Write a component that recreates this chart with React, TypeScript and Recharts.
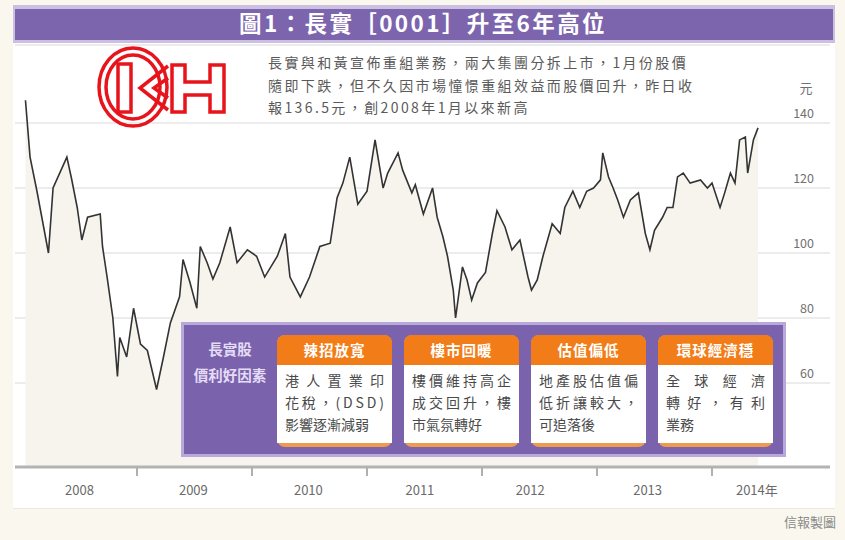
import React from 'react';
import { ComposedChart, Area, XAxis, YAxis, CartesianGrid } from 'recharts';

// ---- data (fractional year, price HK$) ----
const dates = [
  2008.03, 2008.07, 2008.13, 2008.23, 2008.27, 2008.39, 2008.43, 2008.48, 2008.52, 2008.57,
  2008.68, 2008.70, 2008.74, 2008.79, 2008.83, 2008.85, 2008.91, 2008.97, 2009.03, 2009.09,
  2009.17, 2009.23, 2009.29, 2009.37, 2009.40, 2009.46, 2009.52, 2009.55, 2009.61, 2009.66,
  2009.72, 2009.81, 2009.87, 2009.96, 2010.04, 2010.11, 2010.22, 2010.29, 2010.33, 2010.42,
  2010.50, 2010.59, 2010.68, 2010.74, 2010.79, 2010.85, 2010.92, 2011.00, 2011.07, 2011.14,
  2011.18, 2011.27, 2011.31, 2011.39, 2011.42, 2011.49, 2011.57, 2011.61, 2011.66, 2011.70,
  2011.75, 2011.77, 2011.83, 2011.87, 2011.91, 2011.96, 2012.03, 2012.09, 2012.13, 2012.20,
  2012.26, 2012.33, 2012.40, 2012.43, 2012.48, 2012.53, 2012.61, 2012.68, 2012.72, 2012.79,
  2012.85, 2012.91, 2012.97, 2013.03, 2013.05, 2013.10, 2013.14, 2013.18, 2013.23, 2013.29,
  2013.36, 2013.42, 2013.46, 2013.50, 2013.57, 2013.61, 2013.66, 2013.70, 2013.75, 2013.81,
  2013.90, 2013.96, 2014.00, 2014.07, 2014.11, 2014.16, 2014.20, 2014.24, 2014.29, 2014.31,
  2014.36, 2014.40,
];
const prices = [
  147, 129.5, 119, 100, 120, 129.5, 123, 114, 104, 111,
  112, 102, 92.6, 80, 62, 74, 68, 83, 72, 70,
  58, 68, 78.5, 86.5, 98, 91, 83, 102, 97, 92,
  97, 108, 97, 101, 99, 92.6, 99, 106, 92.6, 86.5,
  92.6, 102, 103, 117, 121.5, 129.5, 115, 119, 134.8, 120,
  124.6, 130.8, 125.5, 118.5, 121, 112, 120, 111, 105, 99,
  88.6, 80, 95.7, 91.7, 85.5, 90.8, 94, 106, 113, 108,
  101, 104, 92.6, 88.6, 91.7, 99, 109, 106, 114, 119,
  114, 119, 120, 122.5, 130.8, 123.4, 120, 116.3, 111, 116.3,
  118.5, 106, 101, 107, 111, 114, 114, 123.4, 124.6, 121.5,
  122.5, 120, 121.5, 114, 118.5, 124.6, 121.5, 134.8, 135.7, 124.6,
  134.8, 138.5,
];
const yTicks = [60, 80, 100, 120, 140];
const yearBoundaries = [2009, 2010, 2011, 2012, 2013, 2014];
const yearLabelPos = [2008.5, 2009.49, 2010.49, 2011.46, 2012.42, 2013.44, 2014.39];
const yearLabels = ['2008', '2009', '2010', '2011', '2012', '2013', '2014年'];

const title = '圖1：長實［0001］升至6年高位';
const noteLines = [
  '長實與和黃宣佈重組業務，兩大集團分拆上市，1月份股價',
  '隨即下跌，但不久因市場憧憬重組效益而股價回升，昨日收',
  '報136.5元，創2008年1月以來新高',
];
const boxLabel = ['長實股', '價利好因素'];
const cardTitles = ['辣招放寬', '樓市回暖', '估值偏低', '環球經濟穩'];
const cardLines = [
  ['港人置業印', '花稅，(DSD)', '影響逐漸減弱'],
  ['樓價維持高企', '成交回升，樓', '市氣氛轉好'],
  ['地產股估值偏', '低折讓較大，', '可追落後'],
  ['全球經濟', '轉好，有利', '業務'],
];
const unitLabel = '元';
const sourceLabel = '信報製圖';

const data = dates.map((t, i) => ({ t, price: prices[i] }));
const xTicks = [...yearBoundaries, ...yearLabelPos].sort((a, b) => a - b);

const FONT = '"Noto Sans CJK TC", "Noto Sans", sans-serif';

const XTick = (props: any) => {
  const { x, y, payload } = props;
  const v = payload.value;
  const bi = yearBoundaries.indexOf(v);
  if (bi >= 0) {
    return <line x1={x} x2={x} y1={y} y2={y + 9} stroke="#b0b0b0" strokeWidth={2} />;
  }
  const li = yearLabelPos.indexOf(v);
  return (
    <text x={x} y={y + 28} textAnchor="middle" fontSize={13} fill="#6a6a6a" fontFamily={FONT}>
      {yearLabels[li]}
    </text>
  );
};

const YTick = (props: any) => {
  const { x, y, payload } = props;
  return (
    <text x={x - 16} y={y - 5} textAnchor="end" fontSize={12.5} fill="#707070" fontFamily={FONT}>
      {payload.value}
    </text>
  );
};

const CARD_X = [277, 404, 531, 658];
const CARD_W = 115;

export default function App() {
  return (
    <div style={{ position: 'absolute', left: 0, top: 0, width: 845, height: 540, background: '#faf8ee', overflow: 'hidden', fontFamily: FONT }}>
      {/* white panel */}
      <div style={{ position: 'absolute', left: 13, top: 43, width: 822, height: 465, background: '#ffffff', borderBottom: '1px solid #ebe8dc' }} />
      <div style={{ position: 'absolute', left: 0, top: 0 }}>
        <ComposedChart width={845} height={540} data={data} margin={{ top: 45, right: 0, bottom: 43, left: 15 }}>
          <CartesianGrid vertical={false} stroke="#e6e6e6" strokeWidth={1.5} />
          <XAxis
            dataKey="t"
            type="number"
            domain={[2007.939, 2015.026]}
            allowDataOverflow
            ticks={xTicks}
            interval={0}
            tickSize={0}
            tickMargin={0}
            tickLine={false}
            tick={<XTick />}
            axisLine={{ stroke: '#b3b3b3', strokeWidth: 3 }}
            height={30}
          />
          <YAxis
            orientation="right"
            width={15}
            domain={[34.15, 164]}
            allowDataOverflow
            ticks={yTicks}
            interval={0}
            tickSize={0}
            tickMargin={0}
            tickLine={false}
            axisLine={false}
            tick={<YTick />}
          />
          <Area
            dataKey="price"
            type="linear"
            stroke="#333333"
            strokeWidth={1.6}
            fill="#f6f4ec"
            fillOpacity={1}
            isAnimationActive={false}
            dot={false}
            activeDot={false}
          />
        </ComposedChart>
      </div>
      <svg width={845} height={540} style={{ position: 'absolute', left: 0, top: 0, pointerEvents: 'none' }}>
        {/* title bar */}
        <rect x={13} y={5} width={822} height={38} fill="#cbc0e2" />
        <rect x={15} y={9} width={818} height={31} fill="#7d65ae" />
        <text x={423} y={32} textAnchor="middle" fontSize={22.5} fontWeight="bold" fill="#ffffff" fontFamily={FONT} letterSpacing={2.4}>
          {title}
        </text>
        {/* logo */}
        <g fill="none" stroke="#e8141b" strokeWidth={3.5}>
          <ellipse cx={133} cy={87} rx={34} ry={39} />
          <ellipse cx={133} cy={87} rx={27} ry={32} />
          <rect x={118} y={64} width={13} height={48} fill="#fff" />
          <polyline points="168,66 140,88 168,110" />
          <polyline points="168,78 154,88 168,98" />
          <path d="M172,65 H185 V82 H210 V65 H224 V112 H210 V95 H185 V112 H172 Z" fill="#fff" />
        </g>
        {/* note */}
        {noteLines.map((l, i) => (
          <text key={i} x={268} y={68 + i * 22.5} fontSize={14} fill="#5a5a5a" fontFamily={FONT} letterSpacing={2.4}>
            {l}
          </text>
        ))}
        <text x={806} y={93} textAnchor="middle" fontSize={13} fill="#707070" fontFamily={FONT}>{unitLabel}</text>
        {/* factor box */}
        <rect x={181} y={322} width={605} height={135} fill="#b9a9da" />
        <rect x={184} y={325} width={599} height={129} fill="#7b62ad" />
        {boxLabel.map((l, i) => (
          <text key={i} x={230} y={355 + i * 26} textAnchor="middle" fontSize={14.5} fontWeight="bold" fill="#e4dcf4" fontFamily={FONT}>
            {l}
          </text>
        ))}
        {CARD_X.map((cx, ci) => (
          <g key={ci}>
            <rect x={cx} y={335} width={CARD_W} height={112} rx={8} fill="#ef9a4e" />
            <path d={`M${cx},365 V343 a8,8 0 0 1 8,-8 H${cx + CARD_W - 8} a8,8 0 0 1 8,8 V365 Z`} fill="#f27c17" />
            <rect x={cx} y={365} width={CARD_W} height={78} fill="#ffffff" />
            <text x={cx + CARD_W / 2} y={356} textAnchor="middle" fontSize={14.5} fontWeight="bold" fill="#ffffff" fontFamily={FONT} letterSpacing={1}>
              {cardTitles[ci]}
            </text>
            {cardLines[ci].map((l, li) => {
              const last = li === cardLines[ci].length - 1;
              return last ? (
                <text key={li} x={cx + 8} y={386 + li * 22} fontSize={14} fill="#4a4a4a" fontFamily={FONT}>{l}</text>
              ) : (
                <text key={li} x={cx + 8} y={386 + li * 22} fontSize={14} fill="#4a4a4a" fontFamily={FONT} textLength={CARD_W - 16} lengthAdjust="spacing">{l}</text>
              );
            })}
          </g>
        ))}
        <text x={836} y={527} textAnchor="end" fontSize={13} fill="#8a8a8a" fontFamily={FONT}>{sourceLabel}</text>
      </svg>
    </div>
  );
}
